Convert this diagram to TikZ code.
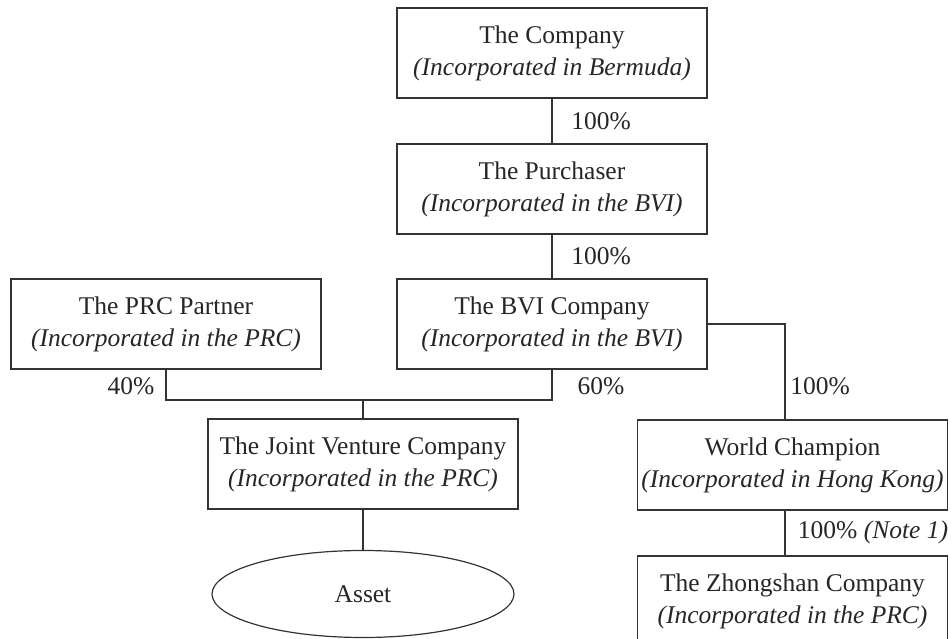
\documentclass[tikz,border=0pt]{standalone}
\usepackage{fontspec}
\setmainfont{Liberation Serif}
\usetikzlibrary{shapes.geometric}

\begin{document}
\begin{tikzpicture}[x=1pt, y=-1pt,
        every node/.style={font=\fontsize{25.5}{32}\selectfont, text=black!85},
        entity/.style={draw=black!80, line width=1.2pt, rectangle, align=center,
            minimum width=310pt, minimum height=90pt, inner sep=0pt},
        holding/.style={draw=black!80, line width=1.2pt},
        pct/.style={inner sep=0pt}]
        % Setup the frame
        \useasboundingbox (0,0) rectangle (951,639);

        % Companies
        \node[entity] (company) at (552, 53) {The Company\\\textit{(Incorporated in Bermuda)}};
        \node[entity] (purchaser) at (552, 189) {The Purchaser\\\textit{(Incorporated in the BVI)}};
        \node[entity] (bvi) at (552, 324) {The BVI Company\\\textit{(Incorporated in the BVI)}};
        \node[entity] (prc) at (166, 324) {The PRC Partner\\\textit{(Incorporated in the PRC)}};
        \node[entity] (jv) at (363, 464) {The Joint Venture Company\\\textit{(Incorporated in the PRC)}};
        \node[entity] (wc) at (792.5, 465) {World Champion\\\textit{(Incorporated in Hong Kong)}};
        \node[entity] (zs) at (792.5, 601) {The Zhongshan Company\\\textit{(Incorporated in the PRC)}};
        \node[draw=black!80, line width=1.2pt, ellipse, minimum width=302pt, minimum height=87pt,
            inner sep=0pt] (asset) at (363, 594) {Asset};

        % Holdings
        \coordinate (join) at (363, 400);
        \draw[holding] (company.south) -- (purchaser.north);
        \draw[holding] (purchaser.south) -- (bvi.north);
        \draw[holding] (prc.south) |- (join) -| (bvi.south);
        \draw[holding] (join) -- (jv.north);
        \draw[holding] (jv.south) -- (asset.north);
        \draw[holding] (bvi.east) -| ([xshift=-7.5]wc.north);
        \draw[holding] ([xshift=-7.5]wc.south) -- ([xshift=-7.5]zs.north);

        % Percentages
        \node[pct] (p1) at (601, 121) {100\%};
        \node[pct] (p2) at (601, 256) {100\%};
        \node[pct] (p3) at (131, 386) {40\%};
        \node[pct] (p4) at (601, 386) {60\%};
        \node[pct] (p5) at (820, 386) {100\%};
        \node[pct] (p6) at (873, 532) {100\% \textit{(Note 1)}};

    \end{tikzpicture}
\end{document}
